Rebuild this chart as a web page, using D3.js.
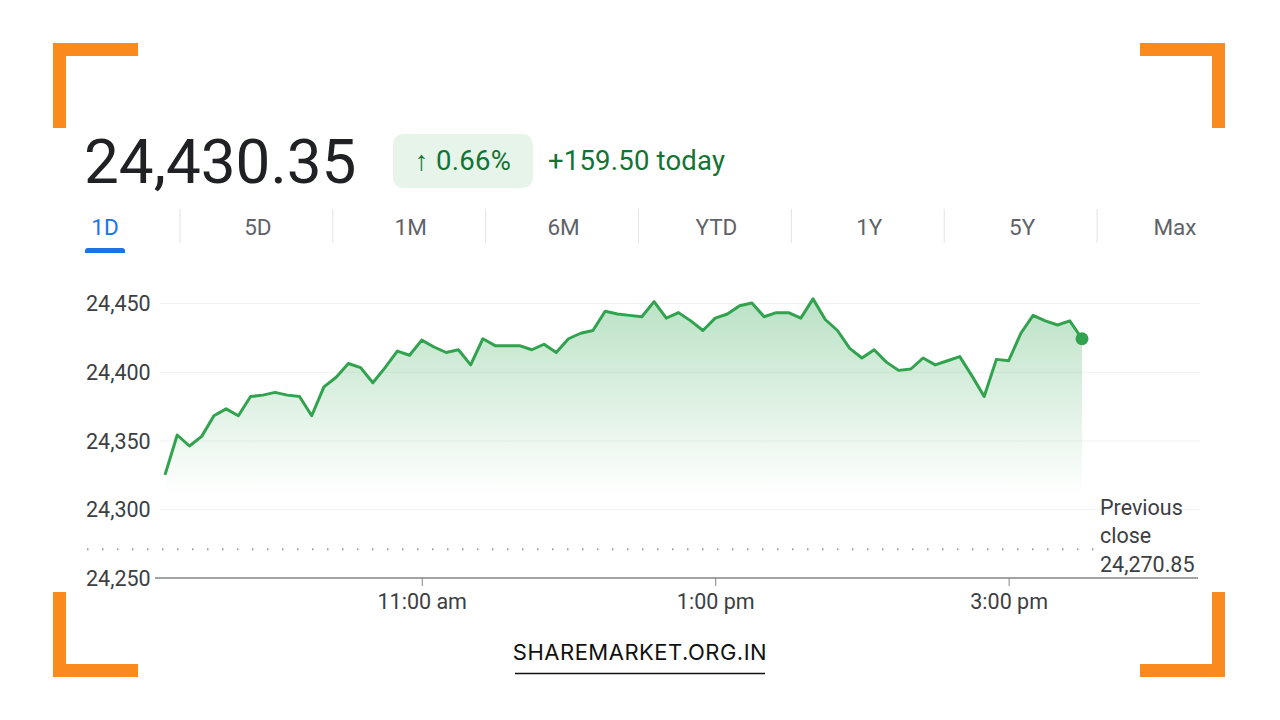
<!DOCTYPE html>
<html>
<head>
<meta charset="utf-8">
<script src="https://cdn.jsdelivr.net/npm/d3@7"></script>
<style>
  html, body { margin: 0; padding: 0; background: #fff; }
  svg { display: block; font-family: Roboto, 'Noto Sans', sans-serif; }
</style>
</head>
<body>
<div id="chart"></div>
<script>
// Nifty intraday, 5 minute closes from 9:15 to 15:30
var values = [
  24325, 24354, 24346, 24353, 24368, 24373, 24368, 24382, 24383, 24385,
  24383, 24382, 24368, 24389, 24396, 24406, 24403, 24392, 24403, 24415,
  24412, 24423, 24418, 24414, 24416, 24405, 24424, 24419, 24419, 24419,
  24416, 24420, 24414, 24424, 24428, 24430, 24444, 24442, 24441, 24440,
  24451, 24439, 24443, 24437, 24430, 24439, 24442, 24448, 24450, 24440,
  24443, 24443, 24439, 24453, 24438, 24430, 24417, 24410, 24416, 24407,
  24401, 24402, 24410, 24405, 24408, 24411, 24397, 24382, 24409, 24408,
  24428, 24441, 24437, 24434, 24437, 24424
]
var yTicks = [24450, 24400, 24350, 24300, 24250]
var xTickHours = [11, 13, 15]
var xTickLabels = ['11:00 am', '1:00 pm', '3:00 pm']
var ranges = ['1D', '5D', '1M', '6M', 'YTD', '1Y', '5Y', 'Max']
var lastPrice = '24,430.35'
var changePct = '\u2191 0.66%'
var changeAbs = '+159.50 today'
var prevClose = 24270.85

var t0 = new Date(2024, 0, 1, 9, 15)
var times = d3.timeMinute.every(5).range(t0, new Date(2024, 0, 1, 15, 31))
var data = values.map((v, i) => ({ t: times[i], v: v }))

var svg = d3.select('#chart').append('svg')
  .attr('width', 1280).attr('height', 720)

// orange corner brackets
var orange = '#fb8a1e'
var corners = [[53, 43, 1, 1], [1225, 43, -1, 1], [53, 677, 1, -1], [1225, 677, -1, -1]]
corners.forEach(c => {
  var x = c[0], y = c[1], sx = c[2], sy = c[3]
  svg.append('path')
    .attr('d', `M${x},${y} h${85 * sx} v${13 * sy} h${-72 * sx} v${72 * sy} h${-13 * sx} Z`)
    .attr('fill', orange)
})

// header
svg.append('text').attr('x', 84).attr('y', 183)
  .attr('font-size', 62).attr('fill', '#202124').text(lastPrice)
svg.append('rect').attr('x', 393).attr('y', 134).attr('width', 140).attr('height', 54)
  .attr('rx', 10).attr('fill', '#e6f4ea')
svg.append('text').attr('x', 463).attr('y', 170).attr('text-anchor', 'middle')
  .attr('font-size', 27.5).attr('letter-spacing', 0.3).attr('fill', '#137333').text(changePct)
svg.append('text').attr('x', 548).attr('y', 170)
  .attr('font-size', 27.5).attr('letter-spacing', 0.2).attr('fill', '#137333').text(changeAbs)

// range tabs
var tabX = d3.scalePoint().domain(ranges).range([105, 1175])
svg.selectAll('.tab').data(ranges).enter().append('text')
  .attr('class', 'tab')
  .attr('x', d => tabX(d)).attr('y', 235)
  .attr('text-anchor', 'middle').attr('font-size', 22.5)
  .attr('fill', d => (d == '1D' ? '#1a73e8' : '#5f6368'))
  .text(d => d)
svg.selectAll('.sep').data(ranges.slice(1)).enter().append('line')
  .attr('x1', d => tabX(d) - tabX.step() / 2 - 1.5)
  .attr('x2', d => tabX(d) - tabX.step() / 2 - 1.5)
  .attr('y1', 209).attr('y2', 243)
  .attr('stroke', '#e3e3e3').attr('stroke-width', 1)
svg.append('path')
  .attr('d', 'M85,253 v-2 a3,3 0 0 1 3,-3 h34 a3,3 0 0 1 3,3 v2 Z')
  .attr('fill', '#1a73e8')

// scales
var x = d3.scaleTime()
  .domain([t0, new Date(2024, 0, 1, 15, 30)])
  .range([165, 1082])
var y = d3.scaleLinear().domain([24250, 24450]).range([578, 303])

// gridlines
svg.selectAll('.grid').data(yTicks.slice(0, 4)).enter().append('line')
  .attr('x1', 160).attr('x2', 1200)
  .attr('y1', d => y(d) + 0.5).attr('y2', d => y(d) + 0.5)
  .attr('stroke', '#f1f1f1')

svg.selectAll('.ylab').data(yTicks).enter().append('text')
  .attr('x', 86).attr('y', d => y(d) + 8)
  .attr('font-size', 21.5).attr('fill', '#3c4043')
  .text(d => d3.format(',')(d))

// area + line
var grad = svg.append('defs').append('linearGradient')
  .attr('id', 'fade').attr('gradientUnits', 'userSpaceOnUse')
  .attr('x1', 0).attr('x2', 0).attr('y1', y(24450)).attr('y2', y(24310))
grad.append('stop').attr('offset', '0%').attr('stop-color', '#34a853').attr('stop-opacity', 0.33)
grad.append('stop').attr('offset', '100%').attr('stop-color', '#34a853').attr('stop-opacity', 0.0)

var area = d3.area()
  .x(d => x(d.t)).y0(y(24310)).y1(d => y(d.v))
svg.append('path').datum(data)
  .attr('d', area).attr('fill', 'url(#fade)')

var line = d3.line().x(d => x(d.t)).y(d => y(d.v))
svg.append('path').datum(data)
  .attr('d', line).attr('fill', 'none')
  .attr('stroke', '#31a34f').attr('stroke-width', 3)
  .attr('stroke-linejoin', 'round')

var last = data[data.length - 1]
svg.append('circle').attr('cx', x(last.t)).attr('cy', y(last.v))
  .attr('r', 6.5).attr('fill', '#31a34f')

// previous close
svg.append('line')
  .attr('x1', 87).attr('x2', 1095)
  .attr('y1', y(prevClose)).attr('y2', y(prevClose))
  .attr('stroke', '#9aa0a6').attr('stroke-width', 2)
  .attr('stroke-dasharray', '1.5,13.5')
var pc = svg.append('text').attr('x', 1100).attr('font-size', 21.5).attr('fill', '#3c4043')
pc.append('tspan').attr('x', 1100).attr('y', 515).text('Previous')
pc.append('tspan').attr('x', 1100).attr('y', 543).text('close')
pc.append('tspan').attr('x', 1100).attr('y', 572).text(d3.format(',.2f')(prevClose))

// x axis
svg.append('line').attr('x1', 155).attr('x2', 1198)
  .attr('y1', y(24250)).attr('y2', y(24250))
  .attr('stroke', '#80868b').attr('stroke-width', 1.5)
var xAxis = d3.axisBottom(x)
  .tickValues(xTickHours.map(h => new Date(2024, 0, 1, h, 0)))
  .tickFormat((d, i) => xTickLabels[i])
  .tickSize(8).tickPadding(8)
var gx = svg.append('g').attr('transform', `translate(0,${y(24250)})`).call(xAxis)
gx.select('.domain').remove()
gx.selectAll('.tick line').attr('stroke', '#80868b')
gx.selectAll('.tick text').attr('font-size', 21.5).attr('fill', '#3c4043')
  .attr('font-family', "Roboto, 'Noto Sans', sans-serif")

// brand
svg.append('text').attr('x', 640).attr('y', 660).attr('text-anchor', 'middle')
  .attr('font-size', 22).attr('letter-spacing', 0.5).attr('fill', '#111')
  .attr('font-family', "Inter, 'Noto Sans', sans-serif")
  .text('SHAREMARKET.ORG.IN')
svg.append('line').attr('x1', 515).attr('x2', 765).attr('y1', 673.5).attr('y2', 673.5)
  .attr('stroke', '#111').attr('stroke-width', 1.5)
</script>
</body>
</html>
